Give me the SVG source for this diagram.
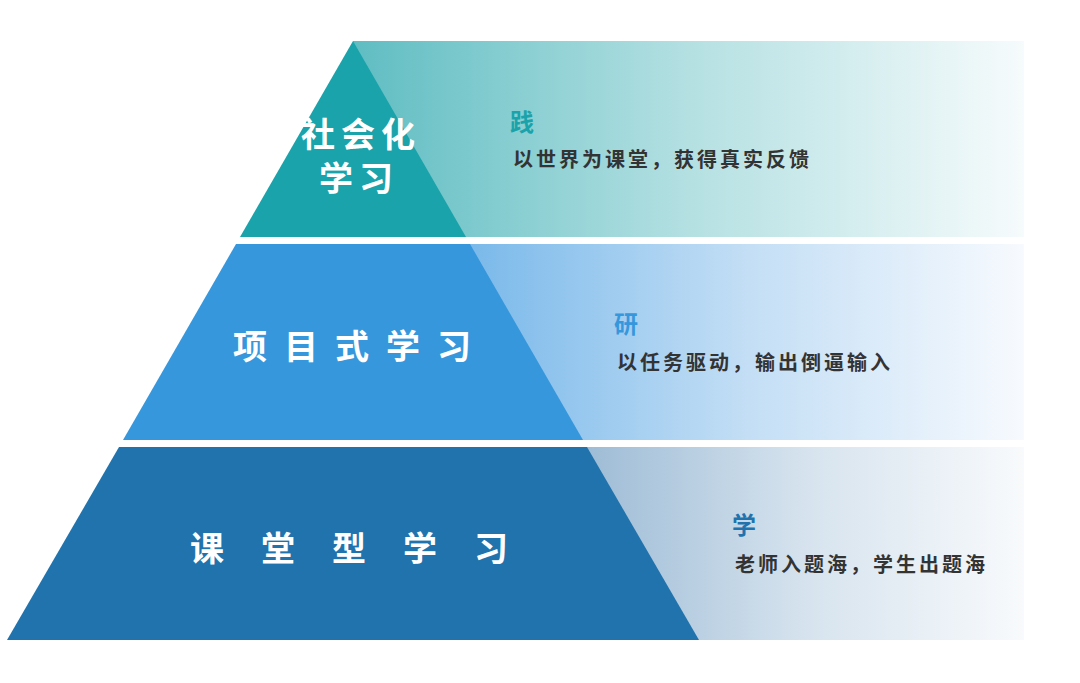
<svg xmlns="http://www.w3.org/2000/svg" width="1080" height="683" viewBox="0 0 1080 683">
<defs>
<linearGradient id="g1" x1="0" x2="1"><stop offset="0" stop-color="#5fbdc2"/><stop offset="0.5" stop-color="#b4e0e2"/><stop offset="1" stop-color="#f6fbfc"/></linearGradient>
<linearGradient id="g2" x1="0" x2="1"><stop offset="0" stop-color="#7ab9ea"/><stop offset="0.5" stop-color="#c3def5"/><stop offset="1" stop-color="#f7fafe"/></linearGradient>
<linearGradient id="g3" x1="0" x2="1"><stop offset="0" stop-color="#9ebcd6"/><stop offset="0.5" stop-color="#d6e3ee"/><stop offset="1" stop-color="#f8fafc"/></linearGradient>
<style>
.t{font-family:"Noto Sans CJK SC",sans-serif;font-weight:700;fill:#fff;font-size:34px}
.h{font-family:"Noto Sans CJK SC",sans-serif;font-weight:700;font-size:24px}
.d{font-family:"Noto Sans CJK SC",sans-serif;font-weight:700;font-size:20px;fill:#333;letter-spacing:3px}
</style>
</defs>
<rect width="1080" height="683" fill="#fff"/>
<g id="level1">
<rect x="353" y="41" width="671" height="196" fill="url(#g1)"/>
<polygon points="353,41 466,237 240,237" fill="#1aa3aa"/>
<text class="t" x="301" y="147" font-size="27" letter-spacing="6">社会化</text>
<text class="t" x="319" y="191" font-size="27" letter-spacing="6">学习</text>
<text class="h" x="510" y="131" fill="#1aa3aa">践</text>
<text class="d" x="513" y="167">以世界为课堂，获得真实反馈</text>
</g>
<g id="level2">
<rect x="470" y="244" width="554" height="196" fill="url(#g2)"/>
<polygon points="236,244 470,244 583,440 123,440" fill="#3797dc"/>
<text class="t" x="233" y="359" letter-spacing="17">项目式学习</text>
<text class="h" x="614" y="333" fill="#3797dc">研</text>
<text class="d" x="617" y="370">以任务驱动，输出倒逼输入</text>
</g>
<g id="level3">
<rect x="587" y="447" width="437" height="193" fill="url(#g3)"/>
<polygon points="119,447 587,447 699,640 7,640" fill="#2073ad"/>
<text class="t" x="190" y="561" letter-spacing="37">课堂型学习</text>
<text class="h" x="732" y="534" fill="#2073ad">学</text>
<text class="d" x="735" y="572">老师入题海，学生出题海</text>
</g>
<g id="connectors"/>
</svg>
